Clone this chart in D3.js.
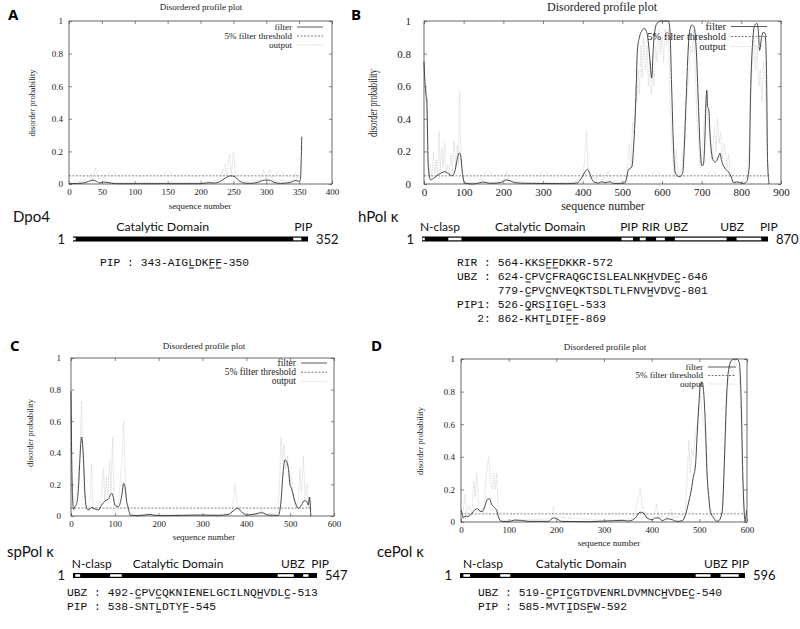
<html>
<head>
<meta charset="utf-8">
<script src="https://d3js.org/d3.v7.min.js"></script>
<style>
  body { margin: 0; background: #fff; }
  .serif { font-family: "Liberation Serif", "DejaVu Serif", serif; fill: #222; }
  .sans { font-family: Lato, "Open Sans", sans-serif; fill: #111; }
  .mono { font-family: "Liberation Mono", "DejaVu Sans Mono", monospace; fill: #111; }
</style>
</head>
<body>
<script>

// ---- disorder profiles: [sequence number, probability] ----
var filterA = [[0,0.002],[15,0.004],[22,0.006],[30,0.016],[36,0.024],[42,0.016],[47,0.006],[52,0.012],[60,0.008],[70,0.002],[130,0.002],[200,0.002],[213,0.008],[220,0.006],[230,0.016],[238,0.037],[246,0.05],[251,0.047],[258,0.022],[266,0.006],[276,0.004],[287,0.01],[297,0.024],[304,0.024],[312,0.01],[322,0.004],[337,0.01],[345,0.022],[349,0.016],[352,0.026],[353,0.12],[354,0.29]];
var outputA = [[0,0.01],[10,0.02],[20,0.01],[30,0.05],[35,0.02],[40,0.1],[45,0.03],[55,0.04],[60,0.01],[100,0.01],[200,0.01],[230,0.03],[237,0.12],[240,0.05],[244,0.18],[247,0.06],[250,0.2],[254,0.04],[262,0.02],[290,0.02],[296,0.09],[300,0.03],[305,0.09],[310,0.02],[340,0.02],[345,0.07],[348,0.03],[352,0.05]];

var filterB = [[0,0.75],[3,0.6],[5,0.55],[7,0.52],[11,0.1],[17,0.025],[24,0.035],[32,0.05],[45,0.07],[53,0.075],[61,0.065],[70,0.05],[78,0.08],[82,0.13],[89,0.19],[92,0.18],[97,0.065],[103,0.005],[124,0.0],[141,0.008],[150,0.012],[166,0.004],[192,0.008],[207,0.025],[217,0.02],[229,0.008],[259,0.004],[360,0.002],[385,0.006],[397,0.035],[406,0.075],[412,0.09],[418,0.065],[427,0.014],[440,0.006],[448,0.014],[456,0.008],[469,0.014],[477,0.004],[494,0.004],[507,0.008],[515,0.085],[524,0.105],[528,0.21],[534,0.515],[538,0.82],[543,0.9],[551,0.945],[555,0.955],[561,0.935],[566,0.86],[571,0.72],[574,0.65],[577,0.78],[580,0.9],[587,0.985],[599,1.0],[616,1.0],[620,0.945],[624,0.62],[629,0.23],[633,0.075],[639,0.05],[645,0.045],[652,0.065],[656,0.21],[660,0.455],[664,0.72],[669,0.925],[675,0.975],[681,0.965],[686,0.84],[692,0.475],[696,0.23],[700,0.115],[704,0.115],[708,0.27],[711,0.515],[713,0.575],[715,0.475],[718,0.455],[721,0.31],[725,0.19],[729,0.145],[734,0.135],[742,0.165],[746,0.19],[750,0.145],[759,0.095],[767,0.075],[776,0.035],[780,0.008],[788,0.012],[797,0.008],[805,0.004],[813,0.014],[820,0.105],[823,0.515],[829,0.885],[834,0.975],[839,0.985],[843,0.935],[846,0.82],[851,0.9],[855,0.93],[860,0.925],[864,0.6],[866,0.15],[870,0.0]];
var outputB = [[0,0.7],[3,0.5],[6,0.6],[9,0.15],[12,0.05],[16,0.12],[20,0.04],[24,0.2],[27,0.06],[31,0.15],[34,0.05],[38,0.32],[41,0.08],[45,0.22],[48,0.1],[52,0.25],[55,0.06],[60,0.12],[64,0.05],[68,0.18],[72,0.08],[76,0.27],[80,0.1],[84,0.24],[87,0.12],[90,0.57],[93,0.15],[97,0.05],[102,0.01],[130,0.01],[145,0.03],[150,0.01],[200,0.01],[208,0.08],[212,0.02],[260,0.01],[380,0.01],[400,0.05],[405,0.15],[410,0.33],[413,0.1],[418,0.05],[425,0.02],[445,0.06],[450,0.02],[465,0.08],[470,0.02],[510,0.02],[518,0.25],[522,0.1],[526,0.38],[530,0.3],[533,0.6],[537,0.5],[540,0.7],[543,0.55],[547,0.85],[550,0.65],[554,0.9],[558,0.7],[562,0.85],[566,0.6],[570,0.75],[573,0.55],[577,0.7],[580,0.6],[584,0.85],[588,0.75],[592,0.95],[596,0.8],[600,0.9],[604,0.75],[608,0.95],[612,0.85],[616,0.95],[620,0.5],[624,0.3],[628,0.1],[632,0.04],[636,0.22],[640,0.08],[644,0.05],[650,0.1],[655,0.3],[660,0.5],[664,0.55],[668,0.7],[672,0.85],[676,0.8],[680,0.95],[684,0.7],[688,0.4],[692,0.25],[696,0.1],[700,0.15],[704,0.3],[708,0.45],[712,0.5],[716,0.38],[720,0.3],[724,0.15],[728,0.2],[732,0.35],[736,0.2],[740,0.4],[744,0.25],[748,0.32],[752,0.15],[756,0.25],[760,0.2],[764,0.1],[768,0.18],[772,0.05],[776,0.02],[800,0.01],[815,0.05],[820,0.25],[824,0.6],[828,0.75],[832,0.9],[836,0.7],[840,0.85],[844,0.6],[848,0.7],[852,0.5],[856,0.75],[860,0.65],[864,0.3],[868,0.05]];

var filterC = [[0,0.79],[1.5,0.39],[4,0.09],[6,0.04],[9,0.06],[13,0.08],[17,0.175],[20,0.345],[24,0.5],[28,0.39],[32,0.133],[36,0.049],[40,0.038],[47,0.053],[55,0.044],[62,0.038],[70,0.07],[78,0.097],[85,0.106],[93,0.144],[97,0.112],[100,0.07],[108,0.059],[116,0.133],[120,0.207],[123,0.186],[127,0.091],[131,0.049],[135,0.006],[154,0.002],[180,0.01],[192,0.004],[214,0.002],[290,0.006],[336,0.004],[359,0.01],[370,0.032],[380,0.049],[389,0.027],[401,0.006],[420,0.013],[435,0.021],[450,0.006],[473,0.004],[479,0.09],[484,0.28],[488,0.355],[492,0.345],[496,0.3],[500,0.195],[503,0.175],[511,0.09],[519,0.049],[526,0.07],[532,0.097],[538,0.09],[541,0.07],[544,0.12],[547,0.0]];
var outputC = [[0,0.8],[2,0.3],[5,0.08],[10,0.12],[15,0.2],[20,0.35],[24,0.73],[27,0.4],[30,0.15],[35,0.05],[40,0.04],[44,0.12],[47,0.33],[50,0.05],[55,0.04],[60,0.07],[65,0.04],[70,0.15],[74,0.3],[77,0.1],[81,0.25],[84,0.12],[88,0.35],[91,0.15],[95,0.5],[98,0.1],[102,0.05],[108,0.08],[112,0.2],[116,0.35],[120,0.6],[123,0.3],[127,0.1],[131,0.03],[140,0.01],[200,0.01],[365,0.01],[370,0.08],[374,0.2],[378,0.1],[384,0.03],[395,0.01],[430,0.01],[435,0.05],[440,0.01],[472,0.02],[476,0.2],[479,0.5],[483,0.35],[486,0.45],[490,0.3],[494,0.38],[498,0.2],[503,0.25],[508,0.1],[514,0.05],[519,0.1],[522,0.3],[526,0.15],[530,0.38],[534,0.1],[538,0.2],[542,0.05],[545,0.12],[547,0.02]];

var filterD = [[0,0.075],[3,0.045],[5,0.025],[8,0.035],[15,0.035],[22,0.05],[29,0.075],[35,0.082],[40,0.065],[45,0.065],[50,0.096],[55,0.137],[60,0.143],[64,0.11],[70,0.09],[75,0.07],[78,0.035],[85,0.004],[99,0.002],[113,0.012],[127,0.01],[141,0.004],[183,0.004],[194,0.025],[201,0.02],[211,0.004],[267,0.002],[338,0.01],[352,0.006],[366,0.025],[376,0.06],[383,0.055],[390,0.025],[401,0.014],[408,0.025],[415,0.025],[422,0.008],[432,0.02],[443,0.014],[453,0.004],[464,0.008],[471,0.045],[478,0.127],[484,0.21],[487,0.27],[492,0.35],[495,0.515],[499,0.72],[502,0.84],[506,0.86],[509,0.8],[513,0.575],[516,0.31],[520,0.147],[523,0.065],[530,0.025],[537,0.004],[541,0.008],[548,0.065],[553,0.413],[557,0.76],[562,0.945],[569,0.995],[579,1.0],[584,0.975],[588,0.72],[591,0.31],[594,0.065],[596,0.004],[599,0.07]];
var outputD = [[0,0.08],[3,0.02],[8,0.17],[12,0.05],[17,0.1],[22,0.04],[27,0.25],[30,0.15],[33,0.3],[37,0.12],[42,0.1],[47,0.06],[51,0.2],[55,0.35],[58,0.4],[62,0.25],[66,0.2],[69,0.3],[72,0.2],[75,0.3],[78,0.06],[82,0.01],[120,0.01],[190,0.02],[194,0.1],[198,0.03],[300,0.01],[360,0.02],[366,0.08],[372,0.15],[376,0.21],[380,0.1],[386,0.04],[400,0.02],[406,0.06],[410,0.11],[414,0.03],[436,0.03],[440,0.08],[444,0.02],[470,0.05],[475,0.3],[478,0.5],[481,0.3],[484,0.45],[488,0.4],[492,0.55],[496,0.6],[500,0.7],[503,0.8],[506,0.65],[510,0.6],[514,0.45],[518,0.2],[522,0.1],[528,0.04],[540,0.01],[548,0.05],[552,0.3],[556,0.6],[560,0.85],[565,0.95],[570,0.9],[575,1.0],[580,0.95],[584,0.9],[588,0.6],[592,0.2],[596,0.02]];

var threshold = 0.05;
var yTicks = [0, 0.2, 0.4, 0.6, 0.8, 1];
var xTicksA = [0, 50, 100, 150, 200, 250, 300, 350, 400];
var xTicksB = [0, 100, 200, 300, 400, 500, 600, 700, 800, 900];
var xTicksCD = [0, 100, 200, 300, 400, 500, 600];
var legendLabels = ["filter", "5% filter threshold", "output"];

// ---- domain maps: protein names, lengths, white (non-catalytic) segments ----
var proteins = ["Dpo4", "hPol κ", "spPol κ", "cePol κ"];
var lengths = [352, 870, 547, 596];
var whitesA = [[1, 5], [330, 342]];
var whitesB = [[2, 8], [67, 100], [502, 531], [548, 563], [589, 611], [636, 766], [791, 853]];
var whitesC = [[6, 17], [84, 110], [459, 495], [516, 528]];
var whitesD = [[8, 22], [85, 106], [493, 524], [545, 583]];
var domainLabelsA = [["Catalytic Domain", 135], ["PIP", 345]];
var domainLabelsB = [["N-clasp", 46], ["Catalytic Domain", 298], ["PIP", 521], ["RIR", 576], ["UBZ", 639], ["UBZ", 780], ["PIP", 872]];
var domainLabelsC = [["N-clasp", 43], ["Catalytic Domain", 236], ["UBZ", 493], ["PIP", 554]];
var domainLabelsD = [["N-clasp", 49], ["Catalytic Domain", 254], ["UBZ", 535], ["PIP", 586]];

// ---- motif sequences and underlined positions ----
var motifsA = [["PIP : 343-AIGLDKFF-350", [13, 16, 17]]];
var motifsB = [["RIR : 564-KKSFFDKKR-572", [13, 14]],
               ["UBZ : 624-CPVCFRAQGCISLEALNKHVDEC-646", [10, 13, 28, 32]],
               ["      779-CPVCNVEQKTSDLTLFNVHVDVC-801", [10, 13, 28, 32]],
               ["PIP1: 526-QRSIIGFL-533", [10, 13, 16]],
               ["   2: 862-KHTLDIFF-869", [13, 16, 17]]];
var motifsC = [["UBZ : 492-CPVCQKNIENELGCILNQHVDLC-513", [10, 13, 28, 32]],
               ["PIP : 538-SNTLDTYF-545", [13, 17]]];
var motifsD = [["UBZ : 519-CPICGTDVENRLDVMNCHVDEC-540", [10, 13, 27, 31]],
               ["PIP : 585-MVTIDSFW-592", [13, 16]]];

var width = 800, height = 629;
var svg = d3.select("body").append("svg").attr("width", width).attr("height", height);

// ---- profile plot (gnuplot look) ----
function profilePlot(p) {
    var x = d3.scaleLinear().domain([0, p.xmax]).range([p.x0, p.x1]);
    var y = d3.scaleLinear().domain([0, 1]).range([p.y0, p.y1]);
    var g = svg.append("g");
    var fs = p.fs;

    function styleAxis(a) {
        a.select(".domain").remove();
        a.selectAll("line").attr("stroke", "#555").attr("stroke-width", 0.7);
        a.selectAll("text").attr("class", "serif").attr("font-size", fs).attr("fill", "#222");
        a.attr("font-family", null);
    }
    g.append("g").attr("transform", "translate(0," + p.y0 + ")")
        .call(d3.axisBottom(x).tickValues(p.xticks).tickSizeInner(-3).tickSizeOuter(0).tickPadding(p.xpad))
        .call(styleAxis);
    g.append("g").attr("transform", "translate(0," + p.y1 + ")")
        .call(d3.axisTop(x).tickValues(p.xticks).tickFormat("").tickSizeInner(-3).tickSizeOuter(0))
        .call(styleAxis);
    g.append("g").attr("transform", "translate(" + p.x0 + ",0)")
        .call(d3.axisLeft(y).tickValues(yTicks).tickFormat(d3.format("")).tickSizeInner(-3).tickSizeOuter(0).tickPadding(p.ypad))
        .call(styleAxis);
    g.append("g").attr("transform", "translate(" + p.x1 + ",0)")
        .call(d3.axisRight(y).tickValues(yTicks).tickFormat("").tickSizeInner(-3).tickSizeOuter(0))
        .call(styleAxis);

    g.append("rect").attr("x", p.x0).attr("y", p.y1).attr("width", p.x1 - p.x0).attr("height", p.y0 - p.y1)
        .attr("fill", "none").attr("stroke", "#444").attr("stroke-width", 0.8);

    // output (light grey, spiky)
    g.append("path").datum(p.output)
        .attr("d", d3.line().x(function(d) { return x(d[0]); }).y(function(d) { return y(d[1]); }))
        .attr("fill", "none").attr("stroke", "#d4d4d4").attr("stroke-width", 0.8).attr("stroke-dasharray", "1.5,1");
    // threshold
    g.append("line").attr("x1", x(0)).attr("x2", x(p.len)).attr("y1", y(threshold)).attr("y2", y(threshold))
        .attr("stroke", "#555").attr("stroke-width", 0.7).attr("stroke-dasharray", "2,1.5");
    // filter
    g.append("path").datum(p.filter)
        .attr("d", d3.line().x(function(d) { return x(d[0]); }).y(function(d) { return y(d[1]); }).curve(d3.curveMonotoneX))
        .attr("fill", "none").attr("stroke", "#333").attr("stroke-width", 0.9);

    // legend
    var styles = [["#333", null], ["#555", "2,1.5"], ["#d4d4d4", "1.5,1"]];
    legendLabels.forEach(function(t, i) {
        var ly = p.legY + i * p.legDy;
        g.append("text").attr("class", "serif").attr("x", p.legX).attr("y", ly + p.legFs * 0.3)
            .attr("text-anchor", "end").attr("font-size", p.legFs).text(t);
        g.append("line").attr("x1", p.legX + 5).attr("x2", p.legX + p.legLen).attr("y1", ly).attr("y2", ly)
            .attr("stroke", styles[i][0]).attr("stroke-width", 0.8).attr("stroke-dasharray", styles[i][1]);
    });

    // titles
    g.append("text").attr("class", "serif").attr("x", p.titleX).attr("y", p.titleY + fs * 0.33)
        .attr("text-anchor", "middle").attr("font-size", p.titleFs).text("Disordered profile plot");
    g.append("text").attr("class", "serif").attr("x", p.xlabX).attr("y", p.xlabY + fs * 0.33)
        .attr("text-anchor", "middle").attr("font-size", p.titleFs).text("sequence number");
    g.append("text").attr("class", "serif")
        .attr("transform", "translate(" + p.ylabX + "," + p.ylabY + ") rotate(-90)")
        .attr("text-anchor", "middle").attr("dy", "0.33em").attr("font-size", p.ylabFs)
        .attr("textLength", p.ylabLen).attr("lengthAdjust", "spacingAndGlyphs")
        .text("disorder probability");
    // panel letter
    svg.append("text").attr("x", p.letX).attr("y", p.letY).attr("font-family", "'Open Sans', Lato, sans-serif")
        .attr("font-weight", "bold").attr("font-size", 15).attr("fill", "#000").text(p.letter);
}

// ---- domain map ----
function domainMap(d) {
    var s = d3.scaleLinear().domain([1, d.len]).range([d.x0, d.x1]);
    var g = svg.append("g");
    g.append("text").attr("class", "sans").attr("x", d.nameX).attr("y", d.nameY).attr("font-size", 15).text(d.name);
    g.append("rect").attr("x", s(1)).attr("y", d.y).attr("width", s(d.len) - s(1)).attr("height", 5).attr("fill", "#000");
    g.selectAll("rect.w").data(d.whites).enter().append("rect").attr("class", "w")
        .attr("x", function(w) { return s(w[0]); }).attr("y", d.y + 1.2)
        .attr("width", function(w) { return s(w[1]) - s(w[0]); }).attr("height", 2.6).attr("fill", "#fff");
    g.append("text").attr("class", "sans").attr("x", s(1) - 8).attr("y", d.y + 7).attr("text-anchor", "end")
        .attr("font-size", 13).text("1");
    g.append("text").attr("class", "sans").attr("x", s(d.len) + 8).attr("y", d.y + 7)
        .attr("font-size", 13).text(d.len);
    d.labels.forEach(function(l) {
        g.append("text").attr("class", "sans").attr("x", s(l[1])).attr("y", d.y - 5.5).attr("text-anchor", "middle")
            .attr("font-size", d.labFs).text(l[0]);
    });
    d.motifs.forEach(function(m, i) {
        var by = d.seqY + i * 14;
        var t = g.append("text").attr("class", "mono").attr("x", d.seqX).attr("y", by)
            .attr("font-size", 11.3).attr("xml:space", "preserve").style("white-space", "pre").text(m[0]);
        var cw = t.node().getComputedTextLength() / m[0].length;
        m[1].forEach(function(k) {
            g.append("line").attr("x1", d.seqX + k * cw + 0.8).attr("x2", d.seqX + (k + 1) * cw - 0.8)
                .attr("y1", by + 2).attr("y2", by + 2).attr("stroke", "#111").attr("stroke-width", 1);
        });
    });
}

profilePlot({letter: "A", letX: 8, letY: 20, filter: filterA, output: outputA, len: 352, xmax: 400, xticks: xTicksA,
    x0: 69, x1: 332, y0: 184, y1: 21, fs: 9, xpad: 5, ypad: 6, titleFs: 9, titleX: 201, titleY: 7.5,
    xlabX: 200, xlabY: 206, ylabX: 32, ylabY: 103, ylabFs: 9, ylabLen: 67,
    legX: 292, legY: 27, legDy: 9, legLen: 31, legFs: 9});
profilePlot({letter: "B", letX: 351, letY: 20, filter: filterB, output: outputB, len: 870, xmax: 900, xticks: xTicksB,
    x0: 424, x1: 781, y0: 184, y1: 21, fs: 11, xpad: 4, ypad: 13, titleFs: 12, titleX: 602, titleY: 7.5,
    xlabX: 603, xlabY: 206, ylabX: 373, ylabY: 103, ylabFs: 12, ylabLen: 68,
    legX: 726, legY: 26.5, legDy: 10, legLen: 41, legFs: 10.5});
profilePlot({letter: "C", letX: 10, letY: 351, filter: filterC, output: outputC, len: 547, xmax: 600, xticks: xTicksCD,
    x0: 71, x1: 334, y0: 516, y1: 358, fs: 9, xpad: 5, ypad: 10, titleFs: 9, titleX: 204, titleY: 346,
    xlabX: 204, xlabY: 537, ylabX: 30, ylabY: 433, ylabFs: 9, ylabLen: 68,
    legX: 296, legY: 363, legDy: 9.2, legLen: 31, legFs: 9.5});
profilePlot({letter: "D", letX: 371, letY: 351, filter: filterD, output: outputD, len: 596, xmax: 600, xticks: xTicksCD,
    x0: 461, x1: 747, y0: 522, y1: 359, fs: 9, xpad: 5, ypad: 6, titleFs: 9, titleX: 605, titleY: 347,
    xlabX: 609, xlabY: 543, ylabX: 420, ylabY: 441, ylabFs: 9, ylabLen: 68,
    legX: 703, legY: 367, legDy: 8.5, legLen: 33, legFs: 9});

domainMap({name: proteins[0], nameX: 13, nameY: 222, len: lengths[0], x0: 73, x1: 308, y: 236.5, labFs: 12.3,
    whites: whitesA, labels: domainLabelsA, motifs: motifsA, seqX: 100, seqY: 266});
domainMap({name: proteins[1], nameX: 358, nameY: 222, len: lengths[1], x0: 422, x1: 768, y: 236.5, labFs: 12,
    whites: whitesB, labels: domainLabelsB, motifs: motifsB, seqX: 457, seqY: 266});
domainMap({name: proteins[2], nameX: 7, nameY: 557, len: lengths[2], x0: 73, x1: 317, y: 573, labFs: 12,
    whites: whitesC, labels: domainLabelsC, motifs: motifsC, seqX: 67, seqY: 596});
domainMap({name: proteins[3], nameX: 377, nameY: 557, len: lengths[3], x0: 460, x1: 745, y: 573, labFs: 12,
    whites: whitesD, labels: domainLabelsD, motifs: motifsD, seqX: 478, seqY: 596});
</script>
</body>
</html>
